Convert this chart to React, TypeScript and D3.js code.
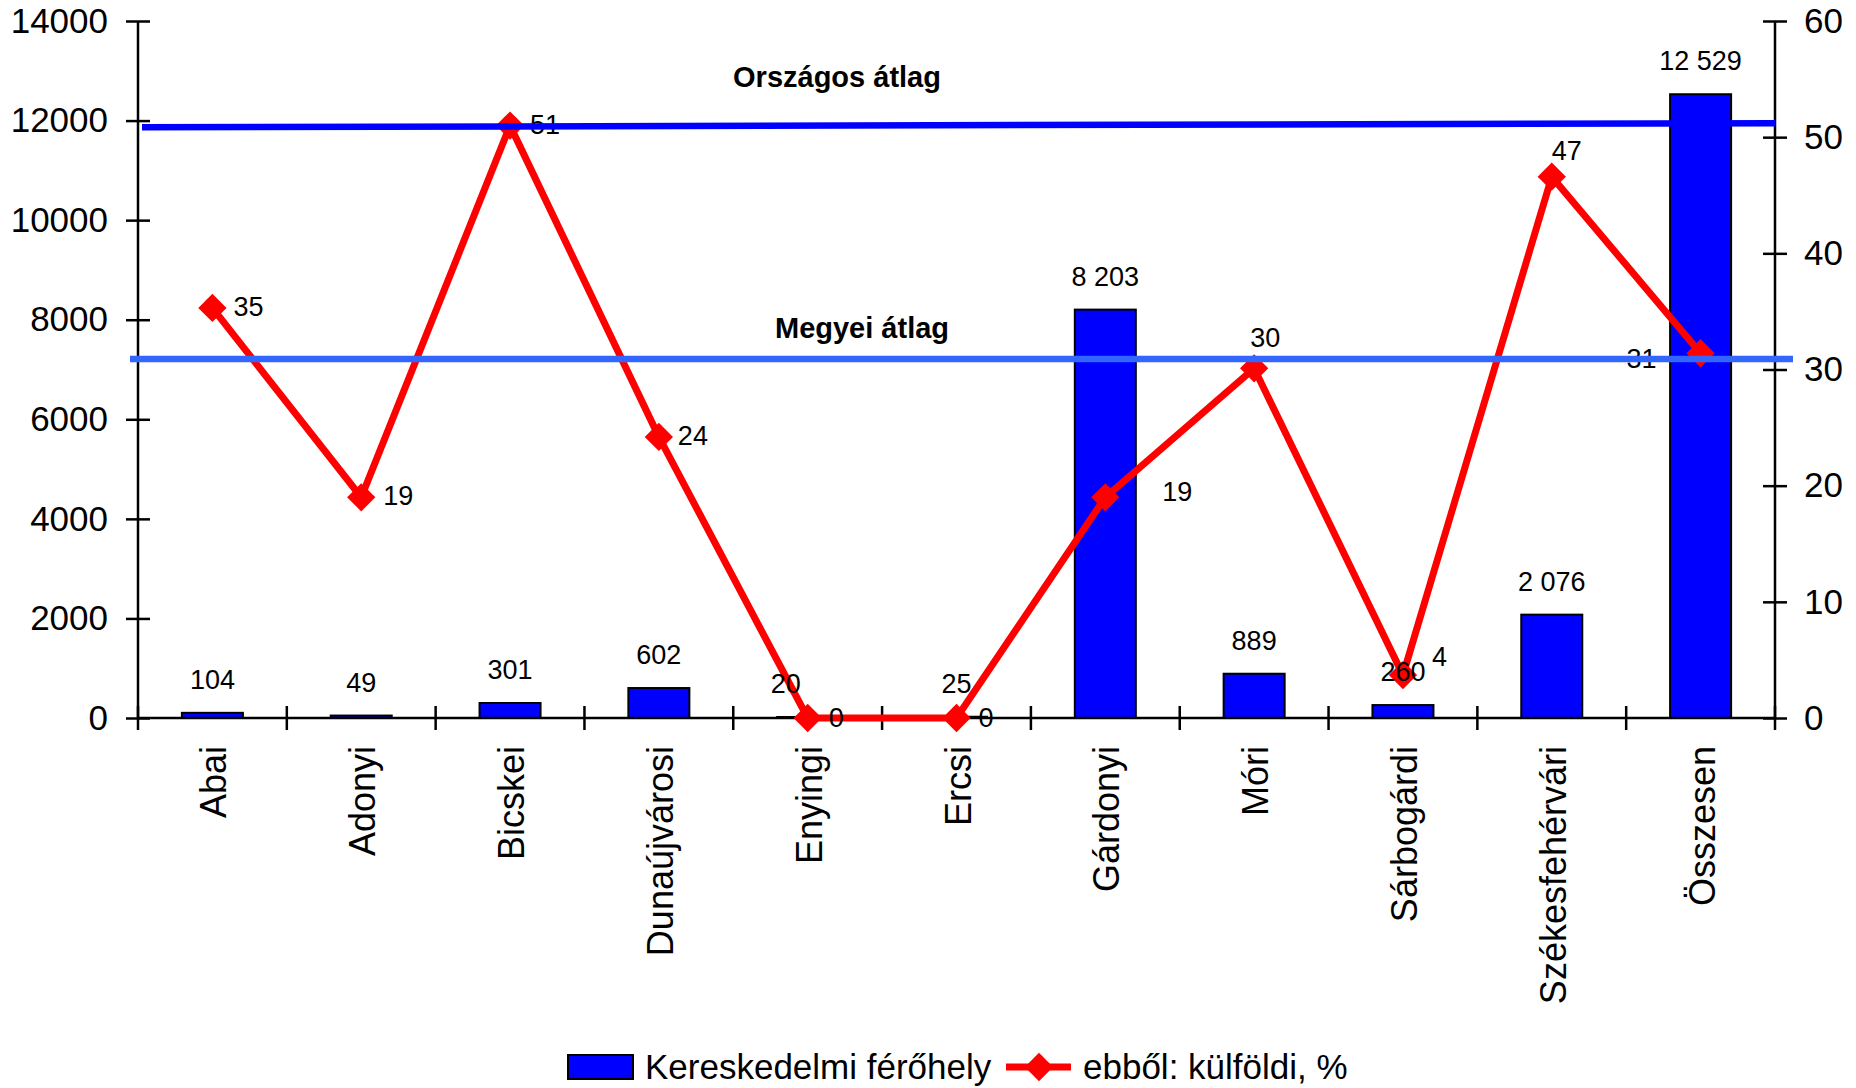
import React, { useEffect, useRef } from 'react';
import * as d3 from 'd3';

const categories = [
  'Abai',
  'Adonyi',
  'Bicskei',
  'Dunaújvárosi',
  'Enyingi',
  'Ercsi',
  'Gárdonyi',
  'Móri',
  'Sárbogárdi',
  'Székesfehérvári',
  'Összesen',
];
const ferohely = [104, 49, 301, 602, 20, 25, 8203, 889, 260, 2076, 12529];
const kulfoldiPct = [35.3, 19, 51, 24.2, 0, 0, 19, 30.1, 3.7, 46.6, 31.4];

const leftTicks = [0, 2000, 4000, 6000, 8000, 10000, 12000, 14000];
const rightTicks = [0, 10, 20, 30, 40, 50, 60];

// reference lines on the right (%) axis: Országos is slightly tilted in the original
const orszagosAtlag = [50.85, 51.2];
const megyeiAtlag = 30.9;

// hand placed labels in the original chart, [dx, dy] from marker centre
const lineLabelNudge = [
  [21, 8], [22, 8], [20, 8], [19, 8], [21, 9], [22, 9],
  [57, 4], [-4, -21], [29, -9], [0, -17], [-74, 15],
];
const barLabelNudge = [0, 0, 0, 0, -22, 0, 0, 0, 0, 0, 0];

const FONT = '"Liberation Sans", Arial, sans-serif';

export default function App() {
  const ref = useRef<SVGSVGElement>(null);

  useEffect(() => {
    if (!ref.current) return;
    const svg = d3.select(ref.current);
    svg.selectAll('*').remove();

    const left = 138;
    const right = 1775;
    const top = 21;
    const bottom = 718;

    const x = d3.scaleBand().domain(categories).range([left, right]);
    const yL = d3.scaleLinear().domain([0, 14000]).range([bottom, top]);
    const yR = d3.scaleLinear().domain([0, 60]).range([bottom, top]);
    const bw = x.bandwidth();
    const barW = bw * 0.41;
    const cx = (c: string) => (x(c) as number) + bw / 2;

    // bars
    svg
      .append('g')
      .selectAll('rect')
      .data(ferohely)
      .enter()
      .append('rect')
      .attr('x', (d, i) => cx(categories[i]) - barW / 2)
      .attr('y', (d) => yL(d))
      .attr('width', barW)
      .attr('height', (d) => bottom - yL(d))
      .attr('fill', '#0000ff')
      .attr('stroke', '#000')
      .attr('stroke-width', 2);

    // left axis
    const gl = svg
      .append('g')
      .attr('transform', `translate(${left},0)`)
      .call(d3.axisLeft(yL).tickValues(leftTicks).tickSize(12).tickPadding(18).tickFormat(d3.format('d')));
    gl.selectAll('.tick line').attr('x1', 12);
    gl.select('.domain').remove();
    gl.append('line').attr('y1', top).attr('y2', bottom).attr('stroke', '#000').attr('stroke-width', 2.5);

    // right axis
    const gr = svg
      .append('g')
      .attr('transform', `translate(${right},0)`)
      .call(d3.axisRight(yR).tickValues(rightTicks).tickSize(12).tickPadding(17));
    gr.selectAll('.tick line').attr('x1', -12);
    gr.select('.domain').remove();
    gr.append('line').attr('y1', top).attr('y2', bottom).attr('stroke', '#000').attr('stroke-width', 2.5);

    [gl, gr].forEach((g) => {
      g.attr('font-size', 35).attr('font-family', FONT);
      g.selectAll('.tick line').attr('stroke-width', 2.5);
      g.selectAll('.tick text').attr('fill', '#000');
    });

    // category axis
    const gx = svg.append('g');
    gx.append('line')
      .attr('x1', left)
      .attr('x2', right)
      .attr('y1', bottom)
      .attr('y2', bottom)
      .attr('stroke', '#000')
      .attr('stroke-width', 2.5);
    gx.selectAll('line.tk')
      .data(d3.range(categories.length + 1))
      .enter()
      .append('line')
      .attr('class', 'tk')
      .attr('x1', (i) => left + i * bw)
      .attr('x2', (i) => left + i * bw)
      .attr('y1', bottom - 12)
      .attr('y2', bottom + 12)
      .attr('stroke', '#000')
      .attr('stroke-width', 2.5);
    gx.selectAll('text')
      .data(categories)
      .enter()
      .append('text')
      .attr('transform', (d) => `translate(${cx(d) + 14},746) rotate(-90)`)
      .attr('text-anchor', 'end')
      .attr('font-size', 36)
      .attr('font-family', FONT)
      .text((d) => d);

    // line series
    const line = d3
      .line<number>()
      .x((d, i) => cx(categories[i]))
      .y((d) => yR(d));
    svg
      .append('path')
      .datum(kulfoldiPct)
      .attr('d', line)
      .attr('fill', 'none')
      .attr('stroke', '#ff0000')
      .attr('stroke-width', 7)
      .attr('stroke-linejoin', 'miter');

    const diamond = d3.symbol(d3.symbolSquare, 400);
    svg
      .append('g')
      .selectAll('path')
      .data(kulfoldiPct)
      .enter()
      .append('path')
      .attr('d', diamond())
      .attr('transform', (d, i) => `translate(${cx(categories[i])},${yR(d)}) rotate(45)`)
      .attr('fill', '#ff0000');

    // bar labels
    const fmtBar = (v: number) => d3.format(',')(v).replace(/,/g, ' ');
    svg
      .append('g')
      .selectAll('text')
      .data(ferohely)
      .enter()
      .append('text')
      .attr('x', (d, i) => cx(categories[i]) + barLabelNudge[i])
      .attr('y', (d) => yL(d) - 24)
      .attr('text-anchor', 'middle')
      .attr('font-size', 27)
      .attr('font-family', FONT)
      .text((d) => fmtBar(d));

    // line labels
    svg
      .append('g')
      .selectAll('text')
      .data(kulfoldiPct)
      .enter()
      .append('text')
      .attr('x', (d, i) => cx(categories[i]) + lineLabelNudge[i][0])
      .attr('y', (d, i) => yR(d) + lineLabelNudge[i][1])
      .attr('font-size', 27)
      .attr('font-family', FONT)
      .text((d) => d3.format('.0f')(d));

    // average lines
    svg
      .append('line')
      .attr('x1', 142)
      .attr('x2', right)
      .attr('y1', yR(orszagosAtlag[0]))
      .attr('y2', yR(orszagosAtlag[1]))
      .attr('stroke', '#0000ff')
      .attr('stroke-width', 6.5);
    svg
      .append('line')
      .attr('x1', 130)
      .attr('x2', 1793)
      .attr('y1', yR(megyeiAtlag))
      .attr('y2', yR(megyeiAtlag))
      .attr('stroke', '#3366ff')
      .attr('stroke-width', 6.5);

    svg
      .append('text')
      .attr('x', 837)
      .attr('y', yR(orszagosAtlag[0]) - 40)
      .attr('text-anchor', 'middle')
      .attr('font-size', 29)
      .attr('font-weight', 'bold')
      .attr('font-family', FONT)
      .text('Országos átlag');
    svg
      .append('text')
      .attr('x', 862)
      .attr('y', yR(megyeiAtlag) - 21)
      .attr('text-anchor', 'middle')
      .attr('font-size', 29)
      .attr('font-weight', 'bold')
      .attr('font-family', FONT)
      .text('Megyei átlag');

    // legend
    const lg = svg.append('g').attr('font-size', 35).attr('font-family', FONT);
    const ly = 1067;
    lg.append('rect')
      .attr('x', 568)
      .attr('y', ly - 12)
      .attr('width', 65)
      .attr('height', 24)
      .attr('fill', '#0000ff')
      .attr('stroke', '#000')
      .attr('stroke-width', 2);
    lg.append('text').attr('x', 645).attr('y', ly).attr('dy', '0.35em').text('Kereskedelmi férőhely');
    lg.append('line')
      .attr('x1', 1006)
      .attr('x2', 1071)
      .attr('y1', ly)
      .attr('y2', ly)
      .attr('stroke', '#ff0000')
      .attr('stroke-width', 7);
    lg.append('path')
      .attr('d', diamond())
      .attr('transform', `translate(1039,${ly}) rotate(45)`)
      .attr('fill', '#ff0000');
    lg.append('text').attr('x', 1083).attr('y', ly).attr('dy', '0.35em').text('ebből: külföldi, %');
  }, []);

  return (
    <>
      <style>{'body{margin:0}'}</style>
      <svg ref={ref} width={1856} height={1088} style={{ display: 'block', background: '#fff' }} />
    </>
  );
}
